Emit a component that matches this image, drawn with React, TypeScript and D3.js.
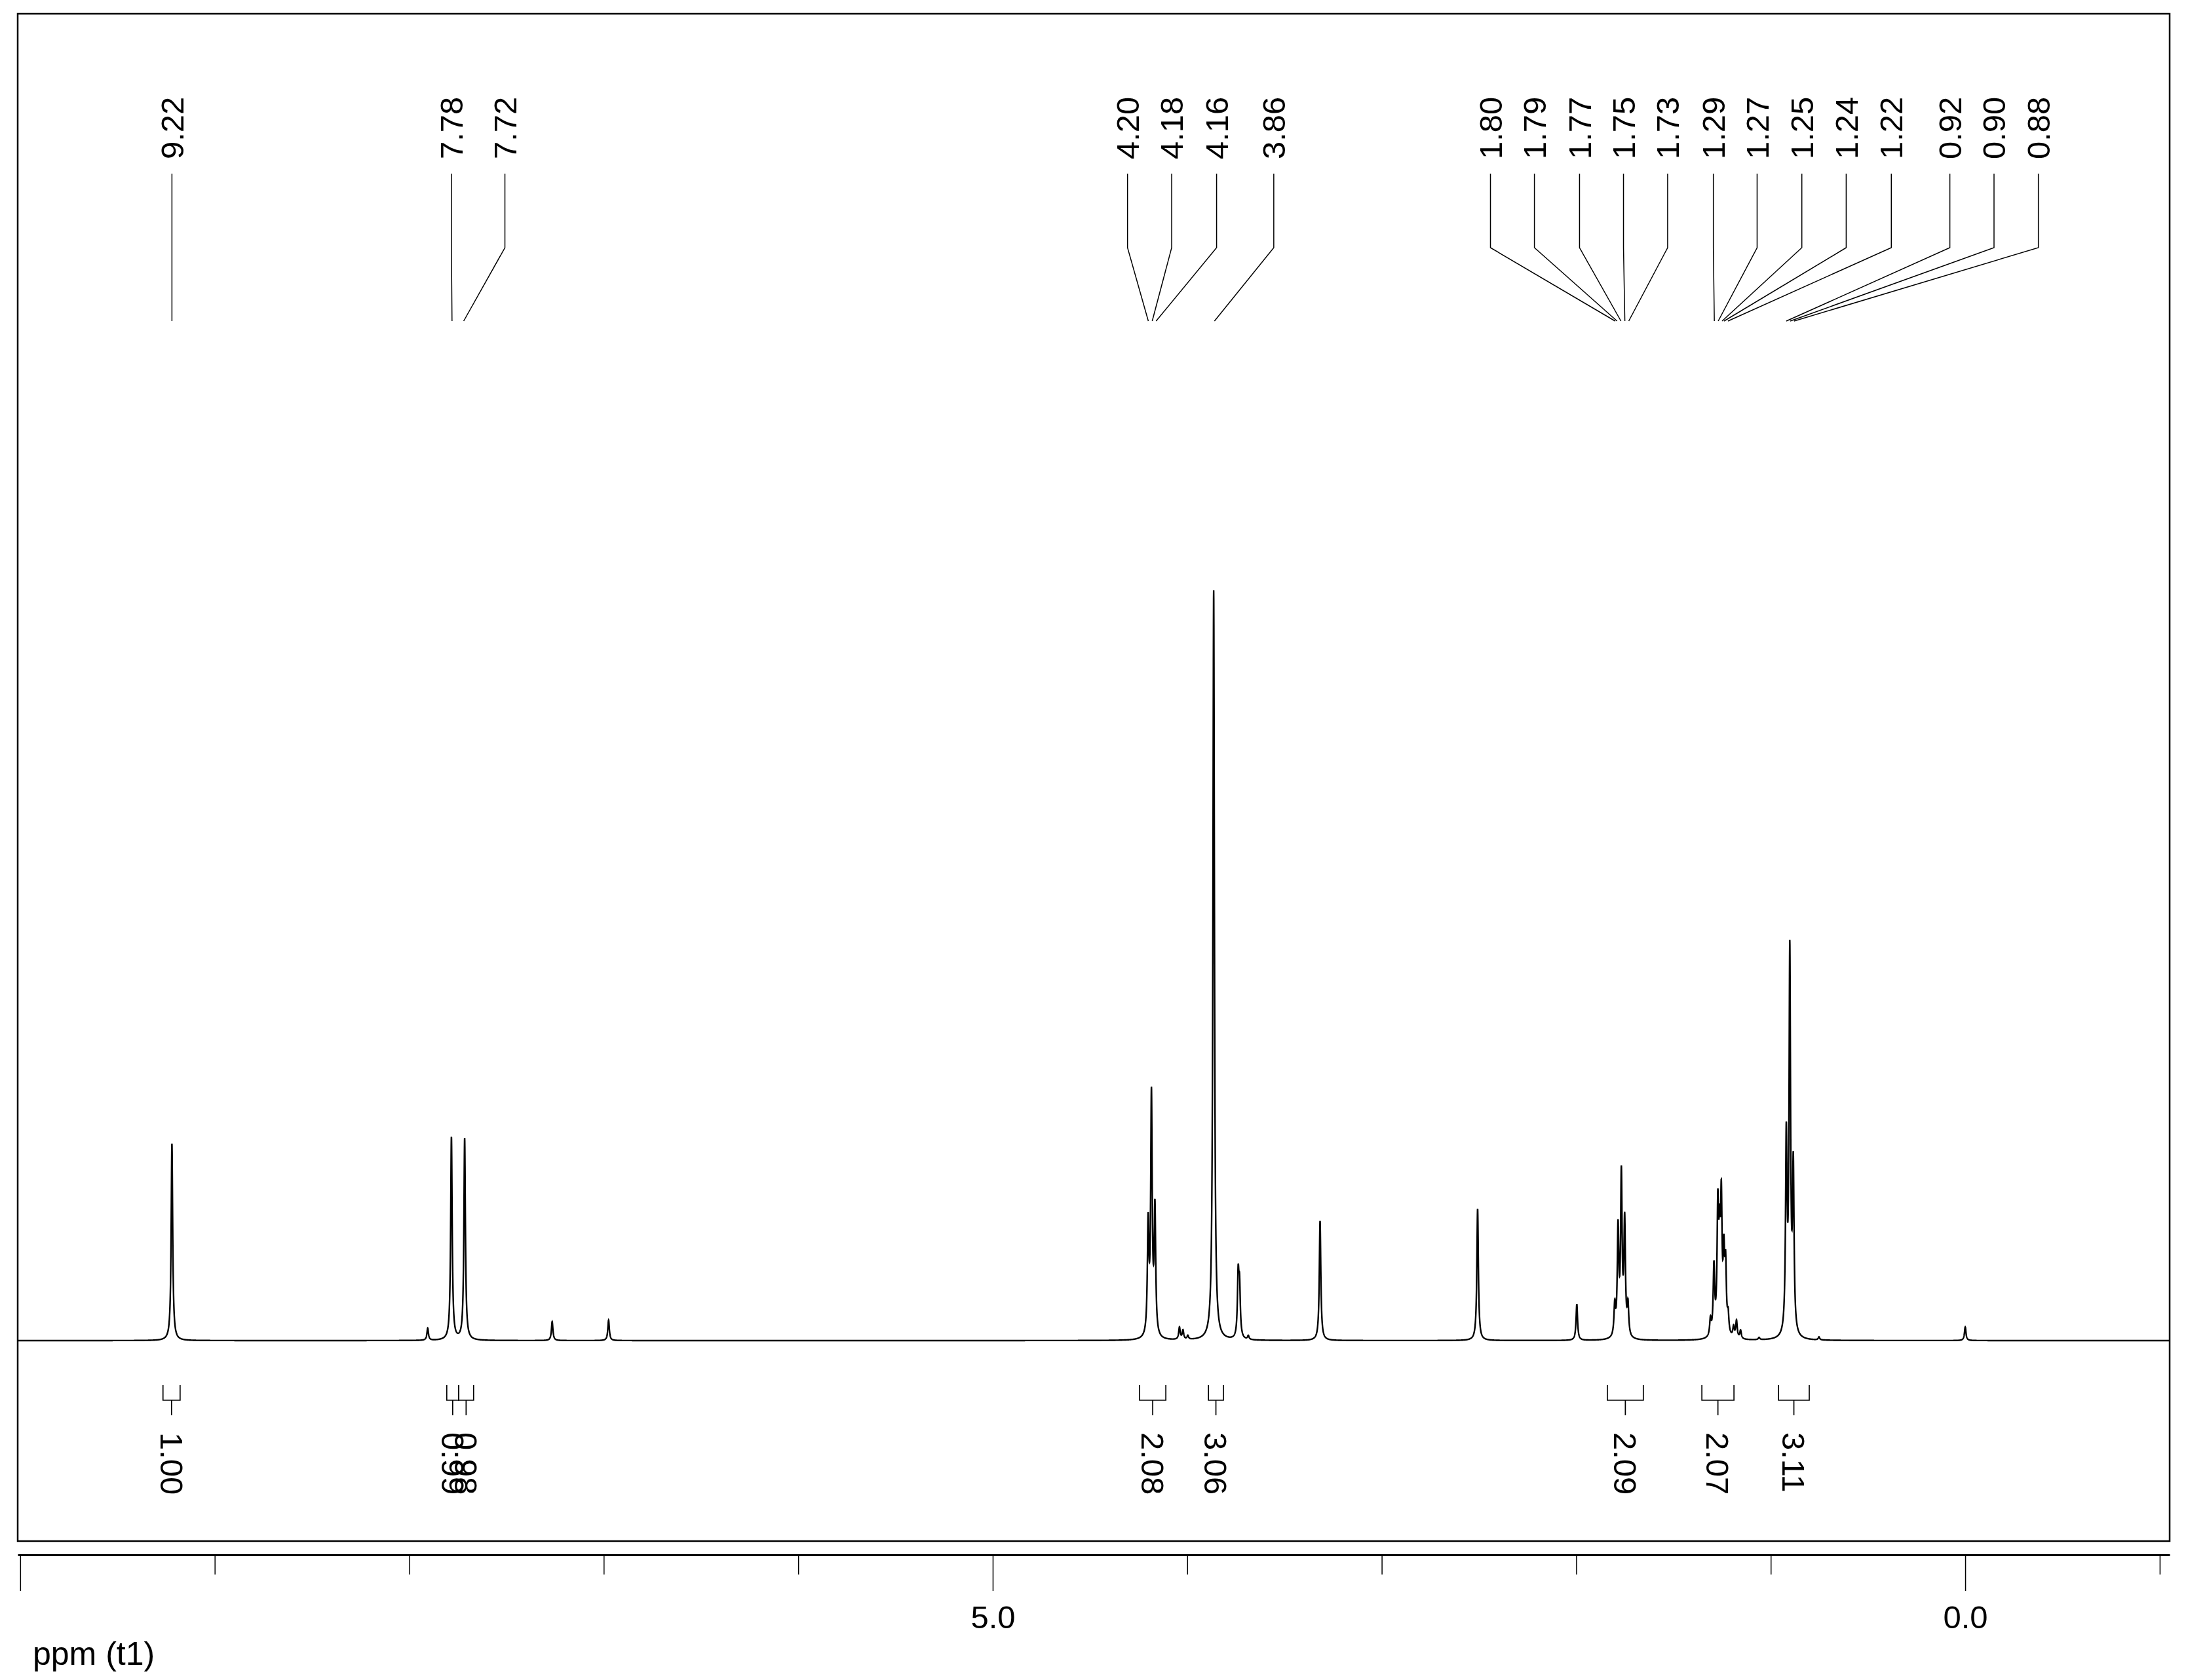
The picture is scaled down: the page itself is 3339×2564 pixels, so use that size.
import React from "react";
import * as d3 from "d3";

// chemical shift (ppm) and height of every resolved line
// height unit: tallest singlet (3.86) = 100
const peakShift = [
  9.22, 7.905, 7.783, 7.715, 7.265, 6.975,
  4.201, 4.184, 4.166, 4.04, 4.022, 3.997,
  3.864, 3.738, 3.731, 3.686, 3.317, 2.507, 1.997,
  1.802, 1.785, 1.768, 1.751, 1.734,
  1.31, 1.292, 1.272, 1.263, 1.254, 1.241, 1.232, 1.219, 1.191, 1.176, 1.155, 1.06,
  0.92, 0.902, 0.884, 0.752, 0.0,
];
const peakHeight = [
  26.0, 1.6, 26.8, 26.6, 2.5, 2.7,
  14.5, 31.5, 16.5, 1.6, 1.2, 0.5,
  99, 8.0, 6.3, 0.5, 15.8, 17.4, 4.8,
  4.0, 14.0, 21.0, 15.0, 4.0,
  2.2, 9.0, 16.0, 10.5, 16.5, 9.5, 8.5, 2.4, 1.4, 2.3, 1.1, 0.3,
  25.5, 50.0, 21.5, 0.4, 1.8,
];

// peak picking labels and the ppm slot where each label text sits
const peakLabels = [
  "9.22", "7.78", "7.72", "4.20", "4.18", "4.16", "3.86",
  "1.80", "1.79", "1.77", "1.75", "1.73",
  "1.29", "1.27", "1.25", "1.24", "1.22",
  "0.92", "0.90", "0.88",
];
const labelSlot = [
  9.22, 7.783, 7.508, 4.307, 4.08, 3.849, 3.555,
  2.441, 2.215, 1.983, 1.757, 1.53,
  1.295, 1.07, 0.84, 0.612, 0.38,
  0.079, -0.148, -0.376,
];

// integrals
const integralText = ["1.00", "0.99", "0.98", "2.08", "3.06", "2.09", "2.07", "3.11"];
const integralFrom = [9.266, 7.807, 7.746, 4.245, 3.891, 1.84, 1.354, 0.96];
const integralTo = [9.178, 7.746, 7.669, 4.11, 3.814, 1.655, 1.189, 0.802];

const majorTicks = [10, 5, 0];
const minorTicks = [9, 8, 7, 6, 4, 3, 2, 1, -1];

const FONT = "'Liberation Sans', Arial, sans-serif";
const W = 3339;
const H = 2564;
const frame = { left: 27, top: 21, right: 3311, bottom: 2352 };
const axisY = 2373;
const lineWidth = 0.0092; // ppm, full width at half height

const App = () => {
  const x = d3.scaleLinear().domain([10.013, -1.051]).range([frame.left, frame.right]);
  const y = d3.scaleLinear().domain([0, 100]).range([2046, 890]);

  const g2 = (lineWidth / 2) ** 2;
  const trace = d3.range(10.013, -1.052, -0.0005).map((p) => {
    let s = 0;
    for (let i = 0; i < peakShift.length; i++) {
      const d = p - peakShift[i];
      s += (peakHeight[i] * g2) / (d * d + g2);
    }
    return [p, s];
  });
  const line = d3
    .line()
    .x((d) => x(d[0]))
    .y((d) => y(d[1]));

  return (
    <svg
      width={W}
      height={H}
      style={{ position: "absolute", left: 0, top: 0, background: "#fff" }}
      fontFamily={FONT}
    >
      <defs>
        <clipPath id="plotClip">
          <rect x={frame.left} y={frame.top} width={frame.right - frame.left} height={frame.bottom - frame.top} />
        </clipPath>
      </defs>
      <rect
        x={frame.left}
        y={frame.top}
        width={frame.right - frame.left}
        height={frame.bottom - frame.top}
        fill="none"
        stroke="#000"
        strokeWidth={2.5}
      />
      <path d={line(trace)} fill="none" stroke="#000" strokeWidth={2.4} clipPath="url(#plotClip)" />

      {/* peak labels */}
      {peakLabels.map((t, i) => {
        const lx = x(labelSlot[i]);
        const px = x(+t);
        return (
          <g key={"pl" + i}>
            <path d={`M${lx},265V378L${px},490`} fill="none" stroke="#000" strokeWidth={1.5} />
            <text
              transform={`translate(${lx},243) rotate(-90)`}
              dy="0.35em"
              fontSize={49}
              textAnchor="start"
            >
              {t}
            </text>
          </g>
        );
      })}

      {/* integrals */}
      {integralText.map((t, i) => {
        const a = x(integralFrom[i]);
        const b = x(integralTo[i]);
        const m = (a + b) / 2;
        return (
          <g key={"in" + i}>
            <path d={`M${a},2114V2137H${b}V2114M${m},2137V2160`} fill="none" stroke="#000" strokeWidth={1.7} />
            <text
              transform={`translate(${m},2186) rotate(90)`}
              dy="0.35em"
              fontSize={49}
              textAnchor="start"
            >
              {t}
            </text>
          </g>
        );
      })}

      {/* ppm axis */}
      <g
        transform={`translate(0,${axisY})`}
        ref={(node) => {
          if (!node) return;
          const axis = d3.axisBottom(x).tickValues(minorTicks).tickSize(30).tickSizeOuter(0).tickFormat(() => "");
          d3.select(node).call(axis);
          d3.select(node).select(".domain").attr("stroke-width", 3);
          d3.select(node).selectAll(".tick line").attr("stroke-width", 1.5);
        }}
      />
      <g
        transform={`translate(0,${axisY})`}
        ref={(node) => {
          if (!node) return;
          const axis = d3
            .axisBottom(x)
            .tickValues(majorTicks)
            .tickSize(55)
            .tickSizeOuter(0)
            .tickPadding(22)
            .tickFormat((d) => (d === 10 ? "" : d3.format(".1f")(d)));
          d3.select(node).call(axis);
          d3.select(node).attr("font-size", 49).attr("font-family", FONT);
          d3.select(node).select(".domain").remove();
          d3.select(node).selectAll(".tick line").attr("stroke-width", 1.5);
        }}
      />
      <text x={50} y={2541} fontSize={50}>
        ppm (t1)
      </text>
    </svg>
  );
};

export default App;
